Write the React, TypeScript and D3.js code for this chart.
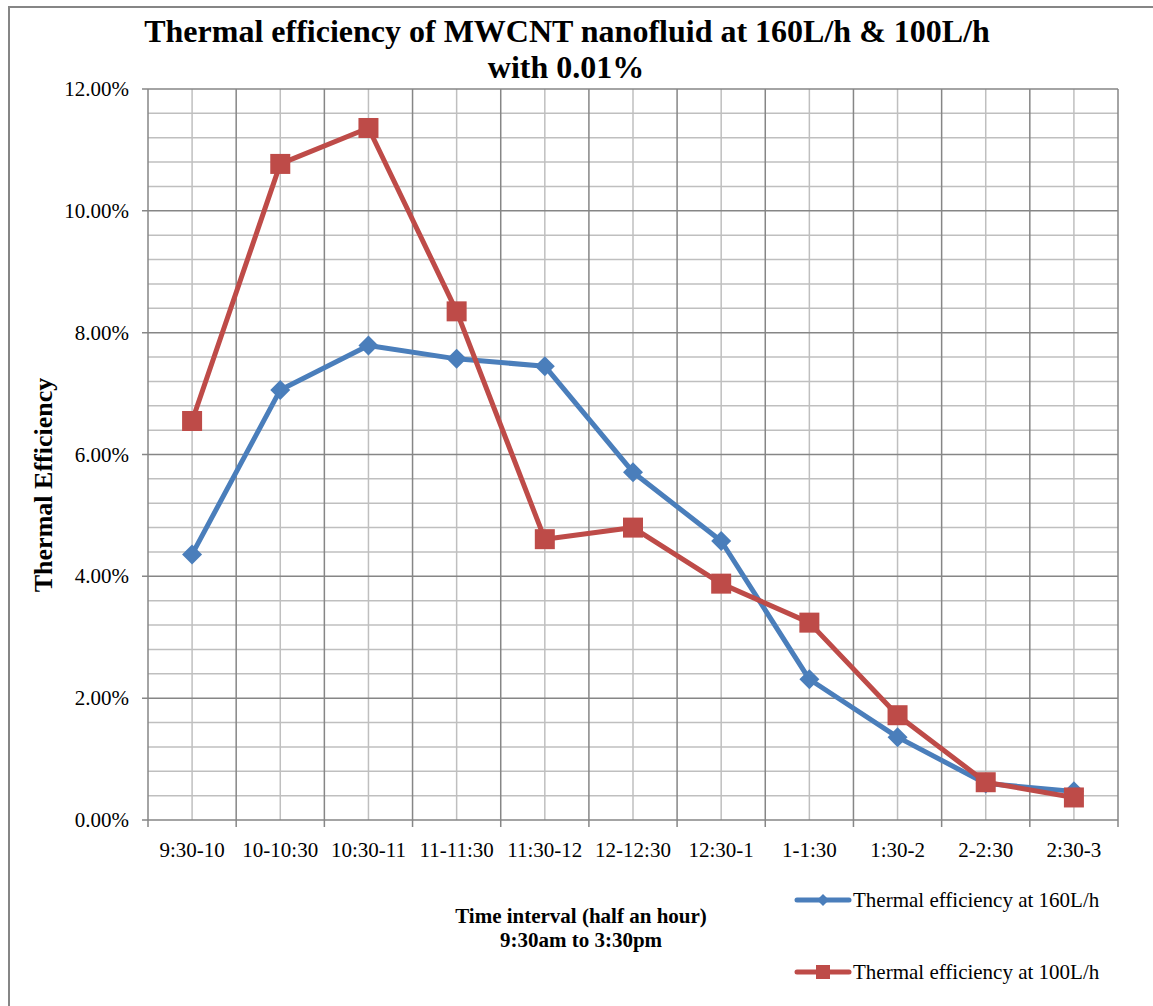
import { useEffect, useRef } from 'react';
import * as d3 from 'd3';

const W = 1153;
const H = 1006;
const PLOT = { left: 148, top: 89, right: 1118, bottom: 820 };

const categories = ['9:30-10', '10-10:30', '10:30-11', '11-11:30', '11:30-12', '12-12:30', '12:30-1', '1-1:30', '1:30-2', '2-2:30', '2:30-3'];
const eff160 = [0.0436, 0.0706, 0.0779, 0.0757, 0.0745, 0.0571, 0.0458, 0.0231, 0.0136, 0.0060, 0.0047];
const eff100 = [0.0655, 0.1077, 0.1136, 0.0835, 0.0461, 0.0480, 0.0388, 0.0324, 0.0172, 0.0062, 0.0037];
const yTicks = [0, 0.02, 0.04, 0.06, 0.08, 0.10, 0.12];

const BLUE = '#4a7ebb';
const RED = '#be4b48';
const FONT = '"Liberation Serif", "Times New Roman", serif';

export default function App() {
  const svgRef = useRef<SVGSVGElement>(null);

  useEffect(() => {
    const svg = d3.select(svgRef.current);
    svg.selectAll('*').remove();

    const x = d3.scaleBand().domain(categories).range([PLOT.left, PLOT.right]);
    const y = d3.scaleLinear().domain([0, 0.12]).range([PLOT.bottom, PLOT.top]);
    const cx = (c: string) => (x(c) as number) + x.bandwidth() / 2;

    // outer chart border
    svg.append('rect').attr('x', 9).attr('y', 7).attr('width', W + 20).attr('height', H + 20)
      .attr('fill', '#fff').attr('stroke', '#868686').attr('stroke-width', 2);

    const grid = svg.append('g');
    // minor horizontal grid every 0.4%
    d3.range(0, 0.1201, 0.004).forEach((v, i) => {
      if (i % 5 === 0) return;
      grid.append('line').attr('x1', PLOT.left).attr('x2', PLOT.right).attr('y1', y(v)).attr('y2', y(v))
        .attr('stroke', '#bfbfbf').attr('stroke-width', 1.5);
    });
    // minor vertical grid at category centres
    categories.forEach(c => {
      grid.append('line').attr('x1', cx(c)).attr('x2', cx(c)).attr('y1', PLOT.top).attr('y2', PLOT.bottom)
        .attr('stroke', '#bfbfbf').attr('stroke-width', 1.5);
    });
    // major horizontal grid
    yTicks.forEach(v => {
      grid.append('line').attr('x1', PLOT.left - 6).attr('x2', PLOT.right).attr('y1', y(v)).attr('y2', y(v))
        .attr('stroke', '#868686').attr('stroke-width', 1.5);
    });
    // major vertical grid at category boundaries
    categories.concat(['__end']).forEach((c, i) => {
      const xx = i < categories.length ? (x(c) as number) : PLOT.right;
      grid.append('line').attr('x1', xx).attr('x2', xx).attr('y1', PLOT.top).attr('y2', PLOT.bottom + 7)
        .attr('stroke', '#868686').attr('stroke-width', 1.5);
    });

    // y tick labels
    yTicks.forEach(v => {
      svg.append('text').attr('x', 129).attr('y', y(v) + 7).attr('text-anchor', 'end')
        .attr('font-family', FONT).attr('font-size', 21).attr('fill', '#000')
        .text(d3.format('.2%')(v));
    });
    // x tick labels
    categories.forEach(c => {
      svg.append('text').attr('x', cx(c)).attr('y', 857).attr('text-anchor', 'middle')
        .attr('font-family', FONT).attr('font-size', 21).attr('fill', '#000').text(c);
    });

    const line = d3.line<number>().x((_, i) => cx(categories[i])).y(d => y(d));

    const series = [
      { data: eff160, color: BLUE, marker: 'diamond' },
      { data: eff100, color: RED, marker: 'square' },
    ];
    series.forEach(s => {
      svg.append('path').attr('d', line(s.data)).attr('fill', 'none')
        .attr('stroke', s.color).attr('stroke-width', 5).attr('stroke-linejoin', 'round');
      s.data.forEach((d, i) => {
        const px = cx(categories[i]);
        const py = y(d);
        if (s.marker === 'square') {
          svg.append('rect').attr('x', px - 10).attr('y', py - 10).attr('width', 20).attr('height', 20)
            .attr('fill', s.color);
        } else {
          svg.append('path').attr('d', `M${px},${py - 10}L${px + 10},${py}L${px},${py + 10}L${px - 10},${py}Z`)
            .attr('fill', s.color);
        }
      });
    });

    // titles
    const title = svg.append('text').attr('text-anchor', 'middle').attr('font-family', FONT)
      .attr('font-size', 32).attr('font-weight', 'bold').attr('fill', '#000');
    title.append('tspan').attr('x', 567).attr('y', 42).text('Thermal efficiency of MWCNT nanofluid at 160L/h & 100L/h');
    title.append('tspan').attr('x', 566).attr('y', 78).text('with 0.01%');

    svg.append('text').attr('transform', 'translate(52,485) rotate(-90)').attr('text-anchor', 'middle')
      .attr('font-family', FONT).attr('font-size', 26).attr('font-weight', 'bold').text('Thermal Efficiency');

    const xt = svg.append('text').attr('text-anchor', 'middle').attr('font-family', FONT)
      .attr('font-size', 21).attr('font-weight', 'bold');
    xt.append('tspan').attr('x', 581).attr('y', 923).text('Time interval (half an hour)');
    xt.append('tspan').attr('x', 581).attr('y', 947).text('9:30am to 3:30pm');

    // legend
    series.forEach((s, i) => {
      const ly = 900 + i * 72;
      svg.append('line').attr('x1', 797).attr('x2', 849).attr('y1', ly).attr('y2', ly)
        .attr('stroke', s.color).attr('stroke-width', 5).attr('stroke-linecap', 'round');
      if (s.marker === 'square') {
        svg.append('rect').attr('x', 816).attr('y', ly - 7).attr('width', 14).attr('height', 14).attr('fill', s.color);
      } else {
        svg.append('path').attr('d', `M823,${ly - 6}L829,${ly}L823,${ly + 6}L817,${ly}Z`).attr('fill', s.color);
      }
      svg.append('text').attr('x', 853).attr('y', ly + 7).attr('font-family', FONT).attr('font-size', 21)
        .text(i === 0 ? 'Thermal efficiency at 160L/h' : 'Thermal efficiency at 100L/h');
    });
  }, []);

  return (
    <svg ref={svgRef} width={W} height={H}
      style={{ position: 'absolute', left: 0, top: 0, background: '#fff' }} />
  );
}
